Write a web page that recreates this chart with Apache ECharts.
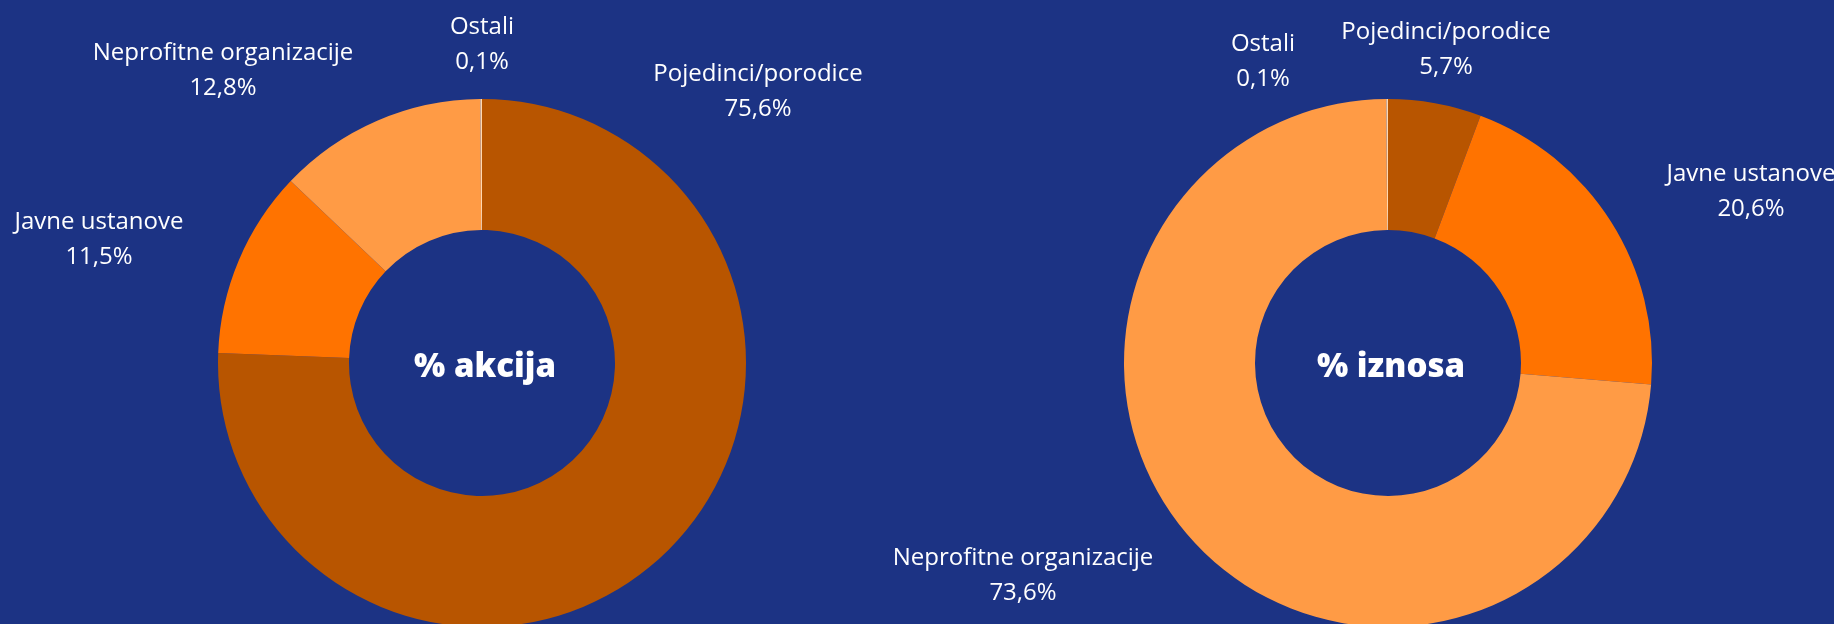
<!DOCTYPE html>
<html>
<head>
<meta charset="utf-8">
<script src="https://cdn.jsdelivr.net/npm/echarts@6/dist/echarts.min.js"></script>
<style>
  html, body { margin: 0; padding: 0; background: #1c3384; }
  #main { width: 1834px; height: 624px; }
</style>
</head>
<body>
<div id="main"></div>
<script>
// kategorije
var categories = ['Pojedinci/porodice', 'Javne ustanove', 'Neprofitne organizacije', 'Ostali'];
// % akcija
var akcijeValues = [75.6, 11.5, 12.8, 0.1];
// % iznosa
var iznosValues = [5.7, 20.6, 73.6, 0.1];
var titles = ['% akcija', '% iznosa'];
var colors = ['#b85500', '#ff7300', '#ff9b45', '#ffd8b0'];

// polozaj natpisa (centar teksta) za svaku kategoriju
var leftLabelPos = [[758, 92], [99, 240], [223, 71], [482, 45]];
var rightLabelPos = [[1446, 50], [1751, 192], [1023, 576], [1263, 62]];

var chart = echarts.init(document.getElementById('main'));

function fmt(v) {
    return v.toFixed(1).replace('.', ',') + '%';
}

function makeData(values) {
    return categories.map(function (c, i) {
        return { name: c, value: values[i], itemStyle: { color: colors[i] } };
    });
}

function makeSeries(values, center, pos) {
    return {
        type: 'pie',
        center: center,
        radius: [133, 264],
        startAngle: 90,
        clockwise: true,
        avoidLabelOverlap: false,
        silent: true,
        data: makeData(values),
        label: {
            show: true,
            color: '#ffffff',
            fontFamily: 'Open Sans',
            fontSize: 24,
            lineHeight: 35,
            formatter: function (p) { return p.name + '\n' + fmt(p.value); }
        },
        labelLine: { show: false },
        labelLayout: function (params) {
            var p = pos[params.dataIndex];
            return { x: p[0], y: p[1], align: 'center', verticalAlign: 'middle' };
        }
    };
}

var titleStyle = { color: '#ffffff', fontSize: 33, fontWeight: 800, fontFamily: 'Open Sans' };

var option = {
    backgroundColor: '#1c3384',
    animation: false,
    title: [
        { text: titles[0], left: 480, top: 363, textAlign: 'center', textVerticalAlign: 'middle', textStyle: titleStyle },
        { text: titles[1], left: 1386, top: 363, textAlign: 'center', textVerticalAlign: 'middle', textStyle: titleStyle }
    ],
    series: [
        makeSeries(akcijeValues, [482, 363], leftLabelPos),
        makeSeries(iznosValues, [1388, 363], rightLabelPos)
    ]
};
chart.setOption(option);
</script>
</body>
</html>
